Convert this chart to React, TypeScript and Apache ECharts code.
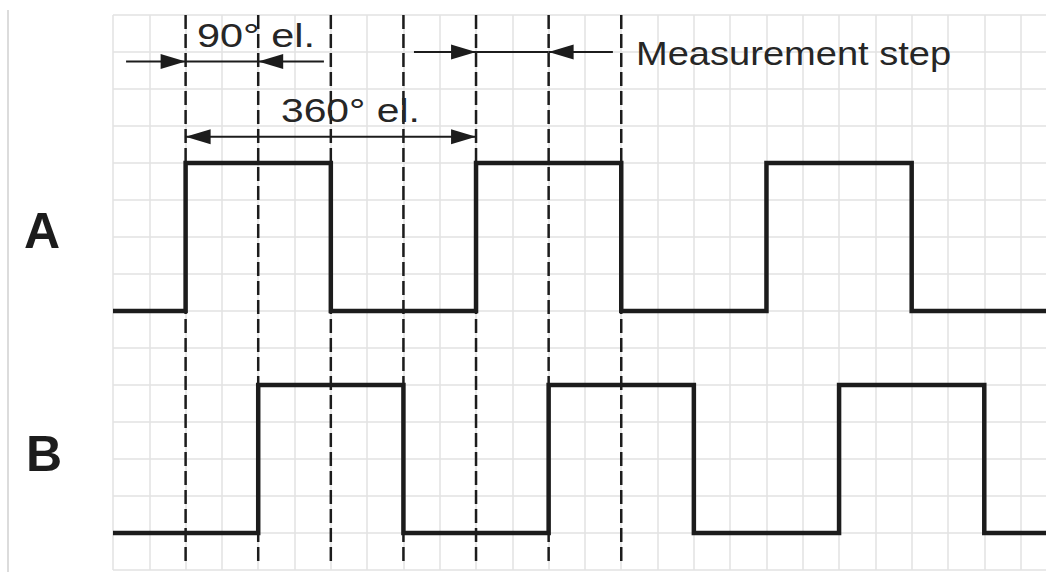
import React, { useEffect, useRef } from "react";
import * as echarts from "echarts";

// Grid extent in cell units
const X_MAX = 25.7;
const Y_MAX = 15;

// Logic levels of the two channels: [x (cells), level]
const signalA: number[][] = [[0, 0], [2, 1], [6, 0], [10, 1], [14, 0], [18, 1], [22, 0], [25.7, 0]];
const signalB: number[][] = [[0, 0], [4, 1], [8, 0], [12, 1], [16, 0], [20, 1], [24, 0], [25.7, 0]];
const channelNames = ["A", "B"];
const channelBase = [7, 1];
const channelAmplitude = 4;

// dashed reference lines (x in cells)
const dashPositions = [2, 4, 6, 8, 10, 12, 14];
const dashTop = 15;
const dashBottom = 0.13;

// dimension arrows: [x1, x2, y, headAtStart, headAtEnd]
const dimArrows: number[][] = [
  [0.36, 2, 13.74, 0, 1],
  [2, 4, 13.74, 0, 0],
  [5.81, 4, 13.74, 0, 1],
  [2, 10, 11.71, 1, 1],
  [8.29, 10, 14.0, 0, 1],
  [10, 12, 14.0, 0, 0],
  [13.77, 12, 14.0, 0, 1],
];

const annotationTexts = ["90° el.", "360° el.", "Measurement step"];

const INK = "#1c1c1c";
const GRID = "#e2e2e2";

export default function App() {
  const ref = useRef<HTMLDivElement>(null);
  useEffect(() => {
    if (!ref.current) return;
    const chart = echarts.init(ref.current, null, { renderer: "svg" });

    const toY = (ch: number) => (d: number[]) => [d[0], channelBase[ch] + channelAmplitude * d[1]];

    const option: any = {
      animation: false,
      backgroundColor: "#ffffff",
      grid: { left: 113, top: 15, width: 933, height: 555 },
      xAxis: {
        type: "value",
        min: 0,
        max: X_MAX,
        interval: 1,
        axisLine: { show: false },
        axisTick: { show: false },
        axisLabel: { show: false },
        splitLine: { show: true, showMaxLine: false, lineStyle: { color: GRID, width: 1.5 } },
      },
      yAxis: {
        type: "value",
        min: 0,
        max: Y_MAX,
        interval: 1,
        axisLine: { show: false },
        axisTick: { show: false },
        axisLabel: { show: false },
        splitLine: { show: true, lineStyle: { color: GRID, width: 1.5 } },
      },
      series: [
        {
          type: "custom",
          name: "dashes",
          coordinateSystem: "cartesian2d",
          encode: { x: 0, y: [1, 2] },
          data: dashPositions.map((x) => [x, dashTop, dashBottom]),
          z: 2,
          renderItem: (params: any, api: any) => {
            const p1 = api.coord([api.value(0), api.value(1)]);
            const p2 = api.coord([api.value(0), api.value(2)]);
            return {
              type: "line",
              shape: { x1: p1[0], y1: p1[1], x2: p2[0], y2: p2[1] },
              style: { stroke: INK, lineWidth: 2.5, lineDash: [14, 5] },
            };
          },
        },
        ...[signalA, signalB].map((s, i) => ({
          type: "line",
          name: channelNames[i],
          step: "end",
          symbol: "none",
          z: 4,
          data: s.map(toY(i)),
          lineStyle: { color: INK, width: 4.5, join: "miter", cap: "butt" },
        })),
        {
          type: "custom",
          name: "arrows",
          coordinateSystem: "cartesian2d",
          encode: { x: [0, 1], y: 2 },
          data: dimArrows,
          z: 5,
          renderItem: (params: any, api: any) => {
            const p1 = api.coord([api.value(0), api.value(2)]);
            const p2 = api.coord([api.value(1), api.value(2)]);
            const L = 25;
            const W = 15;
            const head = (tip: number[], tail: number[]) => {
              const dir = Math.sign(tail[0] - tip[0]) || 1;
              return {
                type: "polygon",
                shape: {
                  points: [
                    [tip[0], tip[1]],
                    [tip[0] + dir * L, tip[1] - W / 2],
                    [tip[0] + dir * L, tip[1] + W / 2],
                  ],
                },
                style: { fill: INK },
              };
            };
            const children: any[] = [
              {
                type: "line",
                shape: { x1: p1[0], y1: p1[1], x2: p2[0], y2: p2[1] },
                style: { stroke: INK, lineWidth: 2 },
              },
            ];
            if (api.value(3)) children.push(head(p1, p2));
            if (api.value(4)) children.push(head(p2, p1));
            return { type: "group", children };
          },
        },
      ],
      graphic: [
        {
          type: "line",
          shape: { x1: 8, y1: 10, x2: 8, y2: 572 },
          style: { stroke: "#dcdcdc", lineWidth: 2 },
        },
        {
          type: "text",
          x: 42,
          y: 231,
          style: {
            text: channelNames[0],
            font: "bold 50px 'Liberation Sans', Arial, sans-serif",
            fill: INK,
            align: "center",
            verticalAlign: "middle",
          },
        },
        {
          type: "text",
          x: 44,
          y: 454,
          style: {
            text: channelNames[1],
            font: "bold 50px 'Liberation Sans', Arial, sans-serif",
            fill: INK,
            align: "center",
            verticalAlign: "middle",
          },
        },
        {
          type: "text",
          x: 197,
          y: 35,
          scaleX: 1.22,
          z: 10,
          style: {
            text: annotationTexts[0],
            font: "34px 'Liberation Sans', Arial, sans-serif",
            fill: "#262626",
            align: "left",
            verticalAlign: "middle",
          },
        },
        {
          type: "text",
          x: 281,
          y: 110,
          scaleX: 1.2,
          z: 10,
          style: {
            text: annotationTexts[1],
            font: "34px 'Liberation Sans', Arial, sans-serif",
            fill: "#262626",
            align: "left",
            verticalAlign: "middle",
          },
        },
        {
          type: "text",
          x: 636,
          y: 53.5,
          scaleX: 1.12,
          z: 10,
          style: {
            text: annotationTexts[2],
            font: "34px 'Liberation Sans', Arial, sans-serif",
            fill: "#262626",
            align: "left",
            verticalAlign: "middle",
          },
        },
      ],
    };

    chart.setOption(option);
    return () => chart.dispose();
  }, []);

  return (
    <div
      ref={ref}
      style={{ position: "absolute", left: 0, top: 0, width: 1046, height: 572, background: "#fff" }}
    />
  );
}
